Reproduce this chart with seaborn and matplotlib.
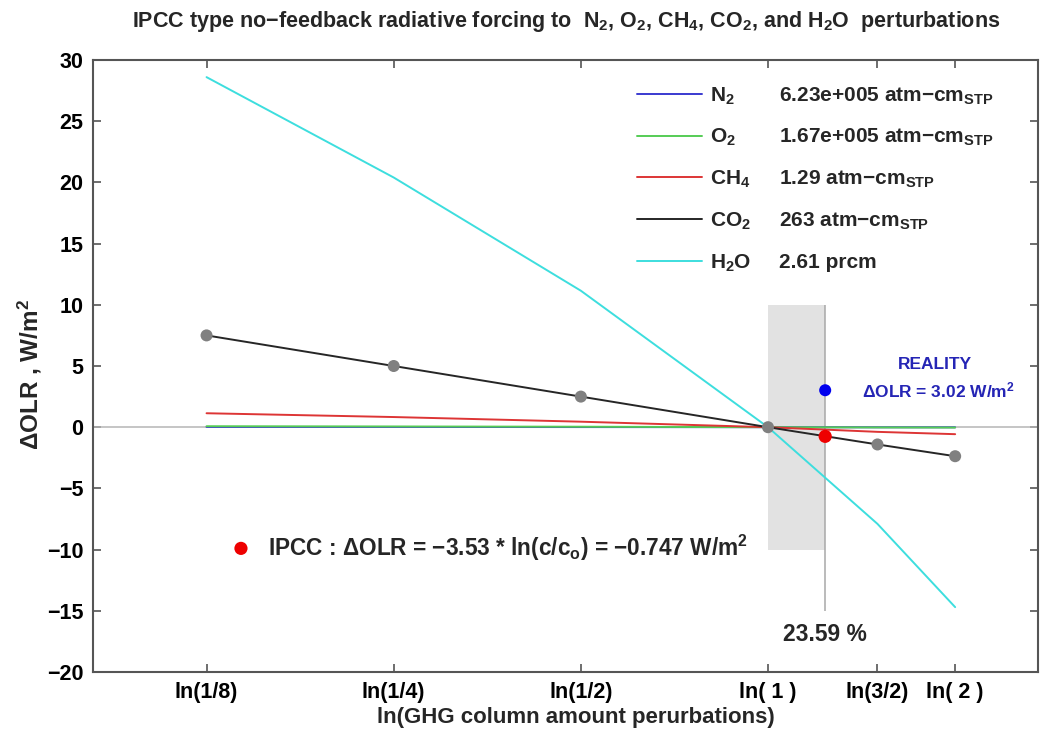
import numpy as np
import pandas as pd
import matplotlib
matplotlib.use("Agg")
import matplotlib.pyplot as plt
from matplotlib.patches import Rectangle
from matplotlib.lines import Line2D
import seaborn as sns

# ---- data -------------------------------------------------------------
tick_labels = ["ln(1/8)", "ln(1/4)", "ln(1/2)", "ln( 1 )", "ln(3/2)", "ln( 2 )"]
ratios = [1 / 8, 1 / 4, 1 / 2, 1.0, 3 / 2, 2.0]

gases = ["N2", "O2", "CH4", "CO2", "H2O"]
gas_names = ["N$_2$", "O$_2$", "CH$_4$", "CO$_2$", "H$_2$O"]
gas_amounts = ["6.23e+005 atm\u2212cm$_{STP}$", "1.67e+005 atm\u2212cm$_{STP}$",
               "1.29 atm\u2212cm$_{STP}$", "263 atm\u2212cm$_{STP}$", "2.61 prcm"]

dolr_n2 = [0.02, 0.02, 0.01, 0.0, -0.01, -0.01]
dolr_o2 = [0.08, 0.06, 0.04, 0.0, -0.02, -0.03]
dolr_ch4 = [1.14, 0.83, 0.45, 0.0, -0.38, -0.57]
dolr_co2 = [7.5, 5.0, 2.5, 0.0, -1.41, -2.37]
dolr_h2o = [28.6, 20.4, 11.15, 0.0, -7.9, -14.7]

ipcc_coeff = -3.53          # W/m^2 per ln(c/c0)
percent_change = 23.59      # %
reality_dolr = 3.02         # W/m^2
ipcc_dolr = -0.747          # W/m^2

gas_colors = {"N2": "#3a3ad0", "O2": "#55cc55", "CH4": "#dd3535",
              "CO2": "#262626", "H2O": "#3ddede"}

# ---- style ------------------------------------------------------------
sns.set_theme(style="ticks", rc={
    "xtick.direction": "in", "ytick.direction": "in",
    "xtick.top": True, "ytick.right": True,
    "axes.edgecolor": "#555555", "axes.linewidth": 1.5,
    "xtick.color": "#555555", "ytick.color": "#555555",
    "xtick.labelcolor": "black", "ytick.labelcolor": "black",
    "xtick.major.size": 6, "ytick.major.size": 6,
    "xtick.major.width": 1.2, "ytick.major.width": 1.2,
})
plt.rcParams["font.family"] = ["Liberation Sans", "DejaVu Sans"]
plt.rcParams["font.weight"] = "bold"
plt.rcParams["mathtext.default"] = "regular"

FS = 15

x_vals = np.log(ratios)
series = {"N2": dolr_n2, "O2": dolr_o2, "CH4": dolr_ch4,
          "CO2": dolr_co2, "H2O": dolr_h2o}
df = pd.DataFrame([
    {"gas": g, "x": xv, "dolr": yv}
    for g in gases for xv, yv in zip(x_vals, series[g])
])

fig = plt.figure(figsize=(10.45, 7.53), dpi=100)
ax = fig.add_axes([93 / 1045, 1 - 672 / 753, 945 / 1045, 612 / 753])

x_now = np.log(1 + percent_change / 100)

# shaded band around today's concentration
ax.add_patch(Rectangle((0, -10), x_now, 20, facecolor="#e2e2e2",
                       edgecolor="none", zorder=0))
ax.axhline(0, color="#b5b5b5", lw=1.1, zorder=1)
ax.vlines(x_now, -15, 10, color="#a8a8a8", lw=1.1, zorder=1)

sns.lineplot(data=df, x="x", y="dolr", hue="gas", hue_order=gases,
             palette=gas_colors, estimator=None, sort=False, lw=1.4,
             legend=False, ax=ax, zorder=3)

co2_df = df[df["gas"] == "CO2"]
sns.scatterplot(data=co2_df, x="x", y="dolr", color="#808080", s=75,
                edgecolor="none", ax=ax, zorder=5, legend=False)

sns.scatterplot(x=[x_now], y=[ipcc_dolr], color="#ee0000", s=90,
                edgecolor="none", ax=ax, zorder=6, legend=False)
sns.scatterplot(x=[x_now], y=[reality_dolr], color="#0000ee", s=75,
                edgecolor="none", ax=ax, zorder=6, legend=False)

ax.set_xlim(-2.5, 1.0)
ax.set_ylim(-20, 30)
ax.set_xticks(x_vals)
ax.set_xticklabels(tick_labels)
ax.set_yticks(np.arange(-20, 31, 5))
ax.set_yticklabels([f"{v}".replace("-", "\u2212") for v in range(-20, 31, 5)])
ax.tick_params(axis="both", labelsize=FS + 0.5, pad=7)

ax.set_xlabel("ln(GHG column amount perurbations)", fontsize=FS + 1,
              fontweight="bold")
ax.set_ylabel("\u0394OLR , W/m$^2$", fontsize=FS + 2.5, fontweight="bold")
ax.xaxis.set_label_coords(0.511, -0.074)
ax.xaxis.label.set_va("center")
ax.yaxis.set_label_coords(-0.067, 0.486)
ax.yaxis.label.set_va("center")

fig.text(566 / 1045, 1 - 22 / 753,
         "IPCC type no\u2212feedback radiative forcing to  N$_2$, O$_2$, CH$_4$, "
         "CO$_2$, and H$_2$O  perturbations",
         ha="center", va="center", fontsize=15.5, fontweight="bold")

# annotations
ax.text(x_now, -16.9, f"{percent_change:.2f} %", ha="center", va="center",
        fontsize=FS + 1.5, fontweight="bold")
ax.text(0.619, 5.1, "REALITY", ha="center", va="center", fontsize=12.5,
        fontweight="bold", color="#2525b5")
ax.text(0.63, 3.0, f"\u0394OLR = {reality_dolr:.2f} W/m$^2$", ha="center",
        va="center", fontsize=12.5, fontweight="bold", color="#2525b5")

sns.scatterplot(x=[-1.952], y=[-9.9], color="#ee0000", s=90,
                edgecolor="none", ax=ax, zorder=6, legend=False)
ax.text(-1.852, -9.9,
        f"IPCC : \u0394OLR = \u2212{abs(ipcc_coeff):.2f} * ln(c/c$_o$) = "
        f"\u2212{abs(ipcc_dolr):.3f} W/m$^2$",
        ha="left", va="center", fontsize=16.3, fontweight="bold")

# legend: species line + name, amount written beside each row
handles = [Line2D([], [], color=gas_colors[g], lw=1.4) for g in gases]
leg = ax.legend(handles, gas_names, loc="upper left",
                bbox_to_anchor=((637 - 93 - 8) / 945, 1 - 17 / 612),
                frameon=False, fontsize=FS, handlelength=3.1,
                handletextpad=0.4, labelspacing=0.98, borderaxespad=0)

fig.canvas.draw()
renderer = fig.canvas.get_renderer()
inv = ax.transAxes.inverted()
for txt, amount in zip(leg.get_texts(), gas_amounts):
    bb = txt.get_window_extent(renderer)
    yc = inv.transform((0, (bb.y0 + bb.y1) / 2))[1]
    xa = inv.transform((779, 0))[0]
    ax.text(xa, yc, amount, transform=ax.transAxes, ha="left", va="center",
            fontsize=FS, fontweight="bold")

fig.savefig("out.png", dpi=100)
